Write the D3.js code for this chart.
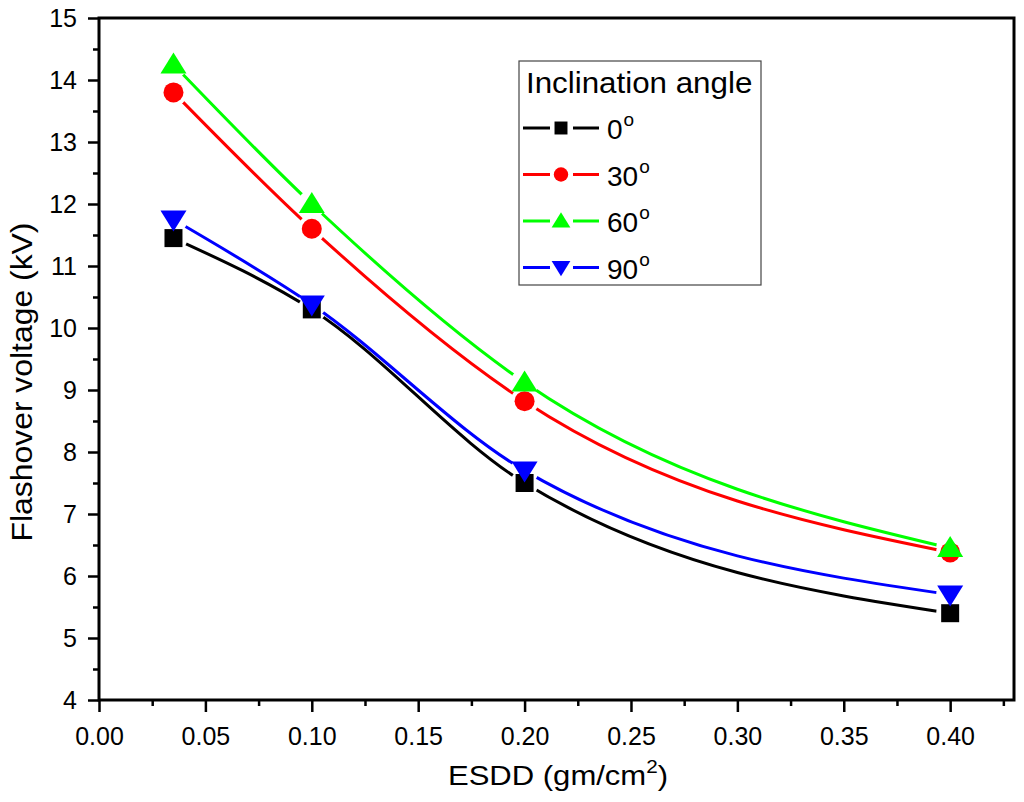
<!DOCTYPE html>
<html lang="en">
<head>
<meta charset="UTF-8">
<title>Flashover voltage vs ESDD</title>
<script src="https://d3js.org/d3.v7.min.js"></script>
<style>
  body { margin: 0; background: #fff; }
  text { font-family: "Liberation Sans", Arial, sans-serif; fill: #000; }
</style>
</head>
<body>
<script>
// data
var esdd = [0.035, 0.1, 0.2, 0.4];
var angles = ["0", "30", "60", "90"];
var v0 = [11.45, 10.3, 7.5, 5.4];
var v30 = [13.8, 11.6, 8.82, 6.38];
var v60 = [14.25, 12.0, 9.12, 6.45];
var v90 = [11.75, 10.38, 7.7, 5.7];
var xTicks = [0, 0.05, 0.1, 0.15, 0.2, 0.25, 0.3, 0.35, 0.4];
var yTicks = [4, 5, 6, 7, 8, 9, 10, 11, 12, 13, 14, 15];

var series = [
  { name: angles[0], values: v0, color: "#000000", shape: "square" },
  { name: angles[1], values: v30, color: "#ff0000", shape: "circle" },
  { name: angles[2], values: v60, color: "#00ff00", shape: "up" },
  { name: angles[3], values: v90, color: "#0000ff", shape: "down" }
];

var width = 1024, height = 802;
var margin = { top: 18, right: 10, bottom: 102, left: 99 };

var svg = d3.select("body").append("svg")
  .attr("width", width)
  .attr("height", height);

var x = d3.scaleLinear().domain([0, 0.43]).range([margin.left, width - margin.right]);
var y = d3.scaleLinear().domain([4, 15]).range([height - margin.bottom, margin.top]);

// marker shapes
function markerPath(shape) {
  if (shape === "square") return "M-9,-9H9V9H-9Z";
  if (shape === "circle") return d3.symbol().type(d3.symbolCircle).size(Math.PI * 100)();
  if (shape === "up") return "M0,-12L13,9H-13Z";
  return "M0,12L13,-9H-13Z";
}

// line gaps around markers
var defs = svg.append("defs");
series.forEach(function (s, i) {
  var m = defs.append("mask").attr("id", "gap" + i)
    .attr("maskUnits", "userSpaceOnUse")
    .attr("x", 0).attr("y", 0).attr("width", width).attr("height", height);
  m.append("rect").attr("width", width).attr("height", height).attr("fill", "white");
  m.selectAll("circle").data(s.values).enter().append("circle")
    .attr("cx", function (d, j) { return x(esdd[j]); })
    .attr("cy", function (d) { return y(d); })
    .attr("r", 14)
    .attr("fill", "black");
});

var line = d3.line()
  .x(function (d, j) { return x(esdd[j]); })
  .y(function (d) { return y(d); })
  .curve(d3.curveMonotoneX);

series.forEach(function (s, i) {
  svg.append("path")
    .attr("d", line(s.values))
    .attr("fill", "none")
    .attr("stroke", s.color)
    .attr("stroke-width", 3)
    .attr("mask", "url(#gap" + i + ")");
});

series.forEach(function (s) {
  svg.selectAll(null).data(s.values).enter().append("path")
    .attr("d", markerPath(s.shape))
    .attr("transform", function (d, j) { return "translate(" + x(esdd[j]) + "," + y(d) + ")"; })
    .attr("fill", s.color);
});

// axes
var xAxis = d3.axisBottom(x).tickValues(xTicks).tickFormat(d3.format(".2f")).tickSize(12).tickPadding(15);
var gx = svg.append("g").attr("transform", "translate(0," + y(4) + ")").call(xAxis);
var xMinor = svg.append("g").attr("transform", "translate(0," + y(4) + ")")
  .call(d3.axisBottom(x).tickValues([0.025, 0.075, 0.125, 0.175, 0.225, 0.275, 0.325, 0.375, 0.425]).tickSize(6).tickFormat(""));

var yAxis = d3.axisLeft(y).tickValues(yTicks).tickSize(11).tickPadding(11);
var gy = svg.append("g").attr("transform", "translate(" + x(0) + ",0)").call(yAxis);
var yMinor = svg.append("g").attr("transform", "translate(" + x(0) + ",0)")
  .call(d3.axisLeft(y).tickValues(d3.range(4.5, 15, 1)).tickSize(6).tickFormat(""));

[gx, gy, xMinor, yMinor].forEach(function (g) {
  g.select(".domain").remove();
  g.selectAll(".tick line").attr("stroke", "#000").attr("stroke-width", 2.5);
  g.selectAll(".tick text").style("font-size", "25px").attr("fill", "#000");
});

// frame
svg.append("rect")
  .attr("x", x(0)).attr("y", y(15))
  .attr("width", x(0.43) - x(0)).attr("height", y(4) - y(15))
  .attr("fill", "none").attr("stroke", "#000").attr("stroke-width", 3);

// axis titles
var xt = svg.append("text")
  .attr("transform", "translate(558,785) scale(1.15,1)")
  .attr("text-anchor", "middle")
  .style("font-size", "27px")
  .text("ESDD (gm/cm");
xt.append("tspan").attr("dy", -12).style("font-size", "18px").text("2");
xt.append("tspan").attr("dy", 12).text(")");

svg.append("text")
  .attr("transform", "translate(32,382) rotate(-90) scale(1.1,1)")
  .attr("text-anchor", "middle")
  .style("font-size", "29px")
  .text("Flashover voltage (kV)");

// legend
var lg = svg.append("g").attr("transform", "translate(519,61)");
lg.append("rect").attr("width", 242).attr("height", 224)
  .attr("fill", "#fff").attr("stroke", "#444").attr("stroke-width", 1.2);
lg.append("text").attr("transform", "translate(7,32) scale(1.08,1)").style("font-size", "29px").text("Inclination angle");

var items = lg.selectAll("g.item").data(series).enter().append("g")
  .attr("class", "item")
  .attr("transform", function (d, i) { return "translate(0," + (67 + i * 46.5) + ")"; });
items.append("line").attr("x1", 4).attr("x2", 31).attr("stroke", function (d) { return d.color; }).attr("stroke-width", 3);
items.append("line").attr("x1", 54).attr("x2", 80).attr("stroke", function (d) { return d.color; }).attr("stroke-width", 3);
items.append("path")
  .attr("d", function (d) { return markerPath(d.shape); })
  .attr("transform", "translate(42,0) scale(0.72)")
  .attr("fill", function (d) { return d.color; });
var lt = items.append("text").attr("x", 88).attr("y", 11).style("font-size", "28px");
lt.append("tspan").text(function (d) { return d.name; });
lt.append("tspan").attr("dx", 1).attr("dy", -13).style("font-size", "19px").text("o");
</script>
</body>
</html>
